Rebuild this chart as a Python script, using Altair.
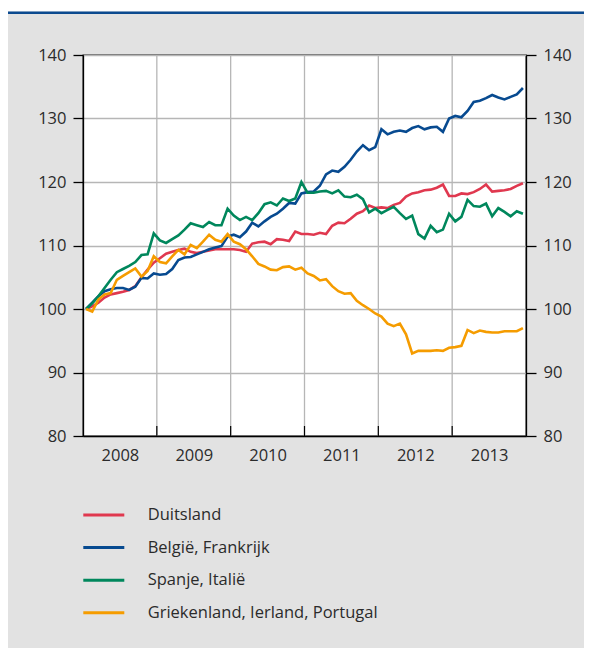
import altair as alt
import pandas as pd

series_names = ["Duitsland", "België, Frankrijk", "Spanje, Italië", "Griekenland, Ierland, Portugal"]
series_colors = ["#e0384f", "#074a90", "#00875c", "#f59c00"]

years = [2008, 2009, 2010, 2011, 2012, 2013]
y_ticks = [80, 90, 100, 110, 120, 130, 140]

# monthly values, Jan 2008 .. Dec 2013
duitsland = [
    100.0, 100.4, 101.0, 101.8, 102.3, 102.5, 102.7, 103.0, 103.6, 105.0, 106.2, 107.3,
    108.0, 108.7, 109.0, 109.3, 109.5, 109.0, 108.8, 109.0, 109.2, 109.4, 109.4, 109.4,
    109.4, 109.3, 109.0, 110.3, 110.5, 110.6, 110.2, 111.0, 110.9, 110.7, 112.2, 111.8,
    111.8, 111.7, 112.0, 111.8, 113.1, 113.6, 113.5, 114.2, 115.0, 115.4, 116.3, 115.9,
    116.0, 115.9, 116.4, 116.7, 117.7, 118.2, 118.4, 118.7, 118.8, 119.1, 119.6, 117.8,
    117.8, 118.2, 118.1, 118.4, 118.9, 119.6, 118.5, 118.6, 118.7, 118.9, 119.4, 119.8,
]
belgie_frankrijk = [
    100.0, 101.0, 102.0, 102.8, 103.1, 103.3, 103.3, 103.0, 103.5, 104.9, 104.8, 105.6,
    105.4, 105.5, 106.3, 107.7, 108.1, 108.2, 108.6, 109.0, 109.4, 109.7, 109.9, 111.4,
    111.7, 111.3, 112.2, 113.6, 113.0, 113.8, 114.5, 115.0, 115.8, 116.7, 116.6, 118.2,
    118.4, 118.5, 119.4, 121.2, 121.8, 121.6, 122.4, 123.5, 124.8, 125.8, 125.0, 125.5,
    128.3, 127.5, 127.9, 128.1, 127.9, 128.5, 128.8, 128.3, 128.6, 128.7, 127.9, 130.0,
    130.4, 130.2, 131.2, 132.6, 132.8, 133.2, 133.7, 133.3, 133.0, 133.4, 133.8, 134.8,
]
spanje_italie = [
    100.0, 100.9, 102.0, 103.3, 104.6, 105.8, 106.3, 106.8, 107.4, 108.5, 108.6, 111.9,
    110.8, 110.4, 111.0, 111.6, 112.5, 113.5, 113.2, 112.9, 113.7, 113.2, 113.2, 115.8,
    114.7, 114.0, 114.5, 114.0, 115.1, 116.5, 116.8, 116.3, 117.4, 117.0, 117.4, 120.0,
    118.3, 118.3, 118.5, 118.6, 118.2, 118.7, 117.7, 117.6, 118.0, 117.3, 115.2, 115.8,
    115.1, 115.6, 116.1, 115.1, 114.2, 114.7, 111.8, 111.1, 113.1, 112.1, 112.5, 115.0,
    113.8, 114.5, 117.2, 116.2, 116.1, 116.6, 114.6, 115.9, 115.3, 114.6, 115.4, 115.0,
]
griekenland_ierland_portugal = [
    100.0, 99.6, 101.5, 102.3, 102.5, 104.6, 105.2, 105.8, 106.4, 105.1, 106.0, 108.3,
    107.4, 107.2, 108.3, 109.3, 108.6, 110.1, 109.6, 110.6, 111.7, 110.9, 110.6, 111.8,
    110.6, 110.2, 109.4, 108.3, 107.1, 106.7, 106.2, 106.1, 106.6, 106.7, 106.2, 106.5,
    105.6, 105.2, 104.5, 104.7, 103.6, 102.8, 102.4, 102.5, 101.3, 100.6, 100.0, 99.3,
    98.8, 97.7, 97.3, 97.7, 96.0, 93.0, 93.4, 93.4, 93.4, 93.5, 93.4, 93.9,
    94.0, 94.2, 96.7, 96.2, 96.6, 96.4, 96.3, 96.3, 96.5, 96.5, 96.5, 97.0,
]

all_series = [duitsland, belgie_frankrijk, spanje_italie, griekenland_ierland_portugal]

rows = []
for name, vals in zip(series_names, all_series):
    for m, v in enumerate(vals):
        rows.append({"t": 2008 + (m + 0.5) / 12, "value": v, "series": name})
df = pd.DataFrame(rows)

FONT = "Open Sans"
TXT = "#2b2b2b"
FS = 16.5
W, H = 443, 381
PAD_L, PAD_T, PAD_R, PAD_B = 75, 47, 58, 212

x_scale = alt.Scale(domain=[2008, 2014], nice=False, zero=False)
y_scale = alt.Scale(domain=[80, 140], nice=False, zero=False)
color_scale = alt.Scale(domain=series_names, range=series_colors)

x_axis = alt.Axis(
    values=[y + 0.5 for y in years], labelExpr="'' + floor(datum.value)",
    ticks=False, grid=False, domainColor="black", domainWidth=1.3,
    labelFont=FONT, labelFontSize=FS, labelColor=TXT, labelPadding=11,
)


def xenc():
    return alt.X("t:Q", scale=x_scale, axis=x_axis, title=None)


one = pd.DataFrame({"a": [0]})

# decorations: white strip + dark blue rule at the very top
top_strip = alt.Chart(one).mark_rect(color="white").encode(
    x=alt.value(-PAD_L), x2=alt.value(W + PAD_R), y=alt.value(-PAD_T), y2=alt.value(-43.5)
)
top_rule = alt.Chart(one).mark_rule(color="#0b4a8f", strokeWidth=2.5).encode(
    x=alt.value(-PAD_L), x2=alt.value(W + PAD_R), y=alt.value(-42.3)
)

# vertical year grid lines
grid_df = pd.DataFrame({"t": [2009, 2010, 2011, 2012, 2013]})
vgrid = alt.Chart(grid_df).mark_rule(color="#b6b6b6", strokeWidth=1.3).encode(x=xenc())
bottom_ticks = alt.Chart(grid_df).mark_rule(color="black", strokeWidth=1.2).encode(
    x=xenc(), y=alt.value(H - 10), y2=alt.value(H)
)

lines = alt.Chart(df).mark_line(strokeWidth=2.6).encode(
    x=xenc(),
    y=alt.Y(
        "value:Q", scale=y_scale, title=None,
        axis=alt.Axis(
            orient="left", values=y_ticks, tickSize=10, tickColor="black", tickWidth=1.3,
            domainColor="black", domainWidth=1.3, grid=True, gridColor="#b6b6b6",
            gridWidth=1.3, labelFont=FONT, labelFontSize=FS, labelColor=TXT, labelPadding=7,
        ),
    ),
    color=alt.Color("series:N", scale=color_scale, legend=None),
    order=alt.Order("t:Q"),
)

right_axis = alt.Chart(df).mark_point(opacity=0).encode(
    x=xenc(),
    y=alt.Y(
        "value:Q", scale=y_scale, title=None,
        axis=alt.Axis(
            orient="right", values=y_ticks, tickSize=10, tickColor="black", tickWidth=1.3,
            domainColor="black", domainWidth=1.3, grid=False,
            labelFont=FONT, labelFontSize=FS, labelColor=TXT, labelPadding=7,
        ),
    ),
)

leg_df = pd.DataFrame({"series": series_names, "idx": list(range(len(series_names)))})
leg_y = alt.Scale(domain=[0, 3], range=[460, 557.7], nice=False, zero=False)
leg_lines = alt.Chart(leg_df).mark_rule(strokeWidth=3).encode(
    x=alt.value(0.3), x2=alt.value(41.3),
    y=alt.Y("idx:Q", scale=leg_y, axis=None),
    color=alt.Color("series:N", scale=color_scale, legend=None),
)
leg_text = alt.Chart(leg_df).mark_text(
    align="left", baseline="middle", font=FONT, fontSize=FS, color=TXT
).encode(
    x=alt.value(64.7),
    y=alt.Y("idx:Q", scale=leg_y, axis=None),
    text="series:N",
)

chart = (
    alt.layer(top_strip, top_rule, vgrid, bottom_ticks, lines, right_axis, leg_lines, leg_text)
    .resolve_scale(y="independent")
    .properties(
        width=W, height=H,
        autosize=alt.AutoSizeParams(type="none"),
        padding={"left": PAD_L, "top": PAD_T, "right": PAD_R, "bottom": PAD_B},
        background="#e2e2e2",
    )
    .configure_view(fill="white", stroke="black", strokeWidth=1.3)
)

chart.save("out.html", embed_options={"renderer": "svg", "actions": False})
